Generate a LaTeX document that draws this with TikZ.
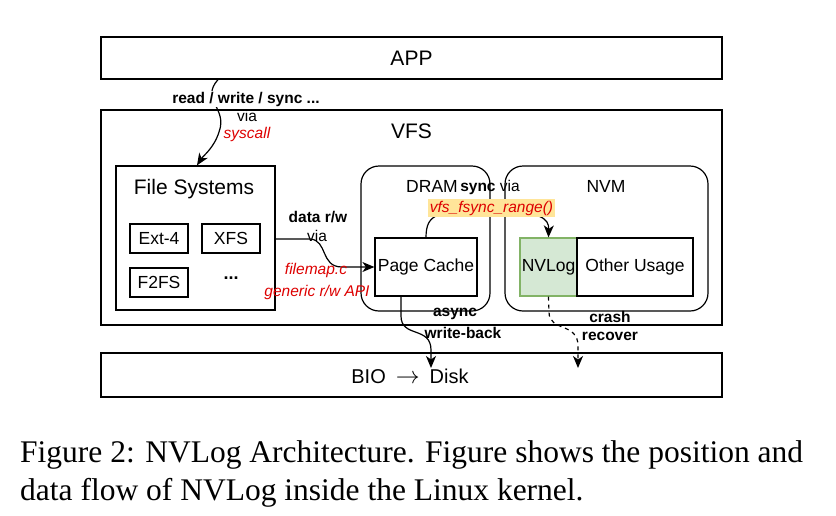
\documentclass[tikz,border=0pt]{standalone}
\usepackage{fontspec}
\setmainfont{Liberation Sans}
\newfontfamily\capfont{Liberation Serif}
\usetikzlibrary{arrows.meta}
\definecolor{lblred}{RGB}{221,0,0}
\definecolor{hlyel}{RGB}{255,229,153}
\definecolor{nvfill}{RGB}{213,232,212}
\definecolor{nvline}{RGB}{130,179,102}
\begin{document}
\begin{tikzpicture}[x=1pt,y=-1pt,
  box/.style={draw,line width=1.2pt,inner sep=0pt},
  rbox/.style={draw,line width=1.2pt,rounded corners=18pt,inner sep=0pt},
  big/.style={font=\fontsize{21}{24}\selectfont},
  mid/.style={font=\fontsize{17.5}{20}\selectfont},
  lbl/.style={font=\fontsize{15.5}{18}\selectfont\bfseries,inner sep=1pt},
  lblv/.style={font=\fontsize{15.5}{18}\selectfont,inner sep=1pt},
  lblr/.style={font=\fontsize{15.5}{18}\selectfont\itshape,text=lblred,inner sep=1pt},
  conn/.style={line width=1.2pt,-{Stealth[length=12pt,width=10pt,inset=3.5pt]}},
  capt/.style={font=\capfont\fontsize{31.5}{38}\selectfont,anchor=base west,inner sep=0pt}
]
\useasboundingbox (0,0) rectangle (836,515);
% main layers
\node[box,minimum width=621pt,minimum height=42pt,big] (app) at (411.5,58) {APP};
\node[box,minimum width=621pt,minimum height=215pt] (vfs) at (411.5,217.5) {};
\node[big] (vfslbl) at (411.5,131) {VFS};
\node[box,minimum width=621pt,minimum height=44pt] (bio) at (411.5,375) {};
\node[font=\fontsize{20}{24}\selectfont] (biolbl) at (410,376) {BIO\hspace{10pt}\scalebox{1.15}{$\rightarrow$}\hspace{10pt}Disk};
% file systems
\node[box,minimum width=159pt,minimum height=144pt] (fs) at (195.5,238) {};
\node[big] (fslbl) at (194,189) {File Systems};
\node[box,minimum width=58pt,minimum height=29pt,mid] (ext) at (159,238.5) {Ext-4};
\node[box,minimum width=58pt,minimum height=29pt,mid] (xfs) at (231,238.5) {XFS};
\node[box,minimum width=58pt,minimum height=29pt,mid] (f2fs) at (159,282.5) {F2FS};
\node[font=\fontsize{18}{20}\selectfont\bfseries] (dots) at (231,278) {...};
% DRAM / NVM
\node[rbox,minimum width=129pt,minimum height=145pt] (dram) at (425.5,238.5) {};
\node[mid] (dramlbl) at (432,186) {DRAM};
\node[rbox,minimum width=203pt,minimum height=145pt] (nvm) at (606.5,238.5) {};
\node[mid] (nvmlbl) at (606,186) {NVM};
\node[box,minimum width=102pt,minimum height=58pt,mid] (pc) at (426,267) {Page Cache};
\node[box,draw=nvline,fill=nvfill,minimum width=57pt,minimum height=58pt,mid] (nvlog) at (548.5,267) {NVLog};
\node[box,minimum width=116pt,minimum height=58pt,mid] (other) at (635,267) {Other Usage};
% syscall arrow
\draw[conn] (app.south -| 218,0) .. controls (200,100) and (228,108) .. (219,132) .. controls (214,148) and (203,156) .. (fs.north -| 197,0);
\node[lbl,fill=white] (rw) at (246,99) {read / write / sync ...};
\node[lblv] (via1) at (247,116) {via};
\node[lblr] (sys) at (247,134) {syscall};
% data r/w arrow
\draw[conn] (fs.east |- 0,239) -- (310,239) .. controls (328,240) and (320,267) .. (342,267) -- (pc.west |- 0,267);
\node[lbl] (drw) at (318,217) {data r/w};
\node[lblv] (via2) at (317,236) {via};
\node[lblr] (fm) at (316,270) {filemap.c};
\node[lblr] (gen) at (317,292) {generic r/w API};
% sync arrow
\draw[conn] (pc.north -| 426,0) .. controls (426,212) and (440,212) .. (480,212) -- (500,212) .. controls (540,212) and (549,218) .. (nvlog.north);
\node[lbl] (sync) at (490,187) {sync \mdseries via};
\node[lblr,fill=hlyel,inner xsep=2pt,inner ysep=2pt] (vfsync) at (491.5,208) {vfs\_fsync\_range()};
% async write-back
\draw[conn] (pc.south -| 401,0) -- (401,316) .. controls (401,338) and (431,326) .. (431,350) -- (431,368);
\node[lbl] (async) at (455,314) {async};
\node[lbl] (wb) at (463,333) {write-back};
% crash recover
\draw[conn,dash pattern=on 4pt off 4pt] (nvlog.south) -- (549,312) .. controls (549,332) and (578,322) .. (578,346) -- (578,368);
\node[lbl] (crash) at (610,317) {crash};
\node[lbl] (rec) at (610,336) {recover};
% caption
\node[capt] (cap1) at (20,462) {Figure 2: NVLog Architecture. Figure shows the position and};
\node[capt] (cap2) at (20,500) {data flow of NVLog inside the Linux kernel.};
\end{tikzpicture}
\end{document}
